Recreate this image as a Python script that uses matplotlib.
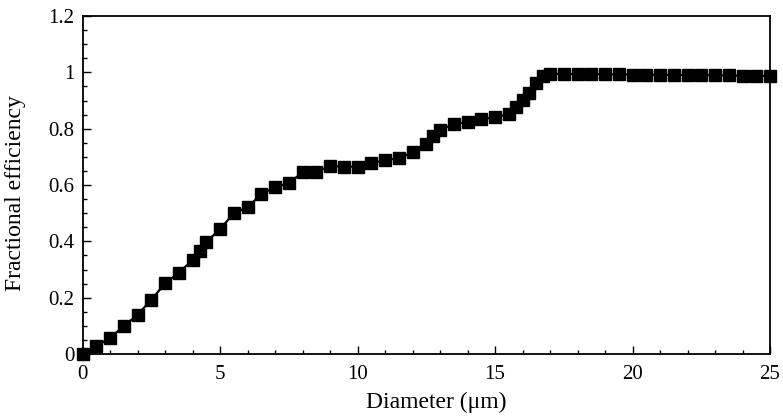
import numpy as np
import matplotlib
matplotlib.use('Agg')
import matplotlib.pyplot as plt
from matplotlib.ticker import MultipleLocator

# Particle diameter (um) and fractional efficiency
diameter = [0, 0.5, 1, 1.5, 2, 2.5, 3, 3.5, 4, 4.25, 4.5, 5, 5.5, 6, 6.5, 7, 7.5,
            8, 8.5, 9, 9.5, 10, 10.5, 11, 11.5, 12, 12.5, 12.75, 13, 13.5, 14,
            14.5, 15, 15.5, 15.75, 16, 16.25, 16.5, 16.75, 17, 17.5, 18, 18.5,
            19, 19.5, 20, 20.5, 21, 21.5, 22, 22.5, 23, 23.5, 24, 24.5, 25]
efficiency = [0.0, 0.028, 0.058, 0.099, 0.14, 0.193, 0.251, 0.289, 0.334, 0.367,
              0.398, 0.444, 0.50, 0.521, 0.568, 0.592, 0.607, 0.645, 0.646, 0.668,
              0.665, 0.665, 0.677, 0.689, 0.695, 0.716, 0.745, 0.774, 0.795, 0.816,
              0.823, 0.834, 0.840, 0.852, 0.876, 0.902, 0.928, 0.961, 0.987, 0.995,
              0.995, 0.994, 0.994, 0.993, 0.993, 0.992, 0.992, 0.991, 0.991, 0.990,
              0.990, 0.989, 0.989, 0.988, 0.988, 0.987]

yticks = [0, 0.2, 0.4, 0.6, 0.8, 1.0, 1.2]
ytick_labels = ['0', '0.2', '0.4', '0.6', '0.8', '1', '1.2']

plt.rcParams['font.family'] = ['Liberation Serif', 'DejaVu Serif']

fig = plt.figure(figsize=(7.83, 4.17), dpi=100)
ax = fig.add_axes([0.1056, 0.151, 0.8778, 0.8106])

ax.plot(diameter, efficiency, color='black', linewidth=1.6,
        marker='s', markersize=8.2, markerfacecolor='black',
        markeredgecolor='black', clip_on=False, zorder=3)

ax.set_xlim(0, 25)
ax.set_ylim(0, 1.2)
ax.xaxis.set_major_locator(MultipleLocator(5))
ax.xaxis.set_minor_locator(MultipleLocator(1))
ax.yaxis.set_minor_locator(MultipleLocator(0.05))
ax.set_yticks(yticks)
ax.set_yticklabels(ytick_labels)

ax.tick_params(which='both', direction='in', labelsize=15, width=1.0)
ax.tick_params(which='major', length=6)
ax.tick_params(which='minor', length=3)
ax.tick_params(axis='x', pad=8)
ax.tick_params(axis='y', pad=6)

for side in ax.spines.values():
    side.set_linewidth(1.3)

ax.set_xlabel('Diameter (\u03bcm)', fontsize=17, va='center')
ax.set_ylabel('Fractional efficiency', fontsize=17, va='center')
ax.xaxis.set_label_coords(0.515, -0.142)
ax.yaxis.set_label_coords(-0.0975, 0.475)

fig.savefig('out.png', dpi=100, facecolor='white')
